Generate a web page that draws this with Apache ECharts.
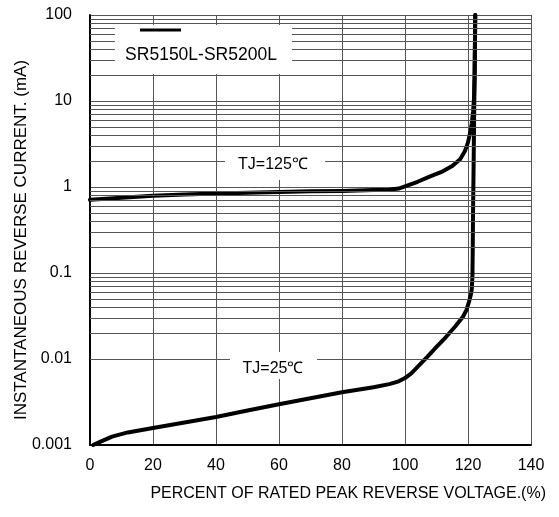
<!DOCTYPE html>
<html><head><meta charset="utf-8">
<script src="https://cdn.jsdelivr.net/npm/echarts@6/dist/echarts.min.js"></script>
<style>html,body{margin:0;padding:0;background:#fff}#c{width:559px;height:517px}</style>
</head><body><div id="c"></div>
<script>
// ---- data ----
const xTickLabels = ['0','20','40','60','80','100','120','140'];
const yTickLabels = ['0.001','0.01','0.1','1','10','100'];
const minorY = [];
[0.001,0.01,0.1,1,10].forEach(d=>{for(let k=2;k<=9;k++){minorY.push(+(d*k).toPrecision(3));}});

const tj125 = [
  [0,0.71],[10,0.75],[20,0.79],[30,0.82],[40,0.84],[50,0.86],[60,0.875],[70,0.89],
  [80,0.90],[90,0.92],[95,0.93],[98,0.96],[100,1.02],[104,1.15],[108,1.33],[112,1.52],
  [115,1.75],[117.5,2.1],[119,2.6],[120,3.3],[120.7,4.3],[121.2,5.5],[121.6,7.5],
  [121.9,10.5],[122.1,20],[122.2,50],[122.3,100]
];
const tj25 = [
  [1,0.001],[3,0.00108],[7,0.00125],[12,0.0014],[20,0.00158],[30,0.00183],[40,0.00212],
  [50,0.00252],[60,0.00298],[70,0.0035],[80,0.0041],[90,0.0047],[95,0.0051],[98,0.0055],
  [100,0.006],[102,0.0068],[104,0.0081],[107,0.0105],[110,0.0138],[113,0.018],[116,0.024],
  [118.4,0.031],[119.5,0.037],[120.3,0.046],[120.9,0.056],[121.2,0.065],[121.4,0.09],
  [121.5,0.18],[121.6,0.5],[121.8,2],[122,10],[122.2,40],[122.3,100]
];
const seriesNames = ['TJ=125℃','TJ=25℃'];
const legendText = 'SR5150L-SR5200L';
const xTitle = 'PERCENT OF RATED PEAK REVERSE VOLTAGE.(%)';
const yTitle = 'INSTANTANEOUS REVERSE CURRENT. (mA)';

const FONT = "'Liberation Sans', Arial, sans-serif";
const chart = echarts.init(document.getElementById('c'), null, {renderer:'canvas'});
const grid = {left:90, right:28, top:15, bottom:72};
const gridColor = '#555';

chart.setOption({
  backgroundColor:'#fff',
  animation:false,
  grid: grid,
  xAxis: {
    type:'value', min:0, max:140, interval:20,
    axisLine:{show:true, onZero:false, lineStyle:{color:'#000', width:2}},
    axisTick:{show:false},
    axisLabel:{color:'#000', fontSize:16, fontFamily:FONT, margin:13,
      formatter:(v)=>xTickLabels[Math.round(v/20)]},
    splitLine:{show:true, lineStyle:{color:gridColor, width:1}}
  },
  yAxis: {
    type:'log', logBase:10, min:0.001, max:100,
    axisLine:{show:true, lineStyle:{color:'#000', width:2}},
    axisTick:{show:false},
    axisLabel:{color:'#000', fontSize:16, fontFamily:FONT, margin:18,
      formatter:(v)=>yTickLabels[Math.round(Math.log10(v))+3]},
    splitLine:{show:true, lineStyle:{color:gridColor, width:1}},
    minorTick:{show:false}, minorSplitLine:{show:false}
  },
  series: [
    {
      type:'line', data:[], z:1, silent:true,
      markLine:{
        silent:true, symbol:['none','none'], label:{show:false},
        lineStyle:{color:gridColor, width:1, type:'solid'},
        data: minorY.map(v=>({yAxis:v}))
      }
    },
    {
      name:seriesNames[0], type:'line', data:tj125, showSymbol:false, z:3,
      smooth:false,
      lineStyle:{color:'#000', width:4, join:'round', cap:'round'}
    },
    {
      name:seriesNames[1], type:'line', data:tj25, showSymbol:false, z:3,
      smooth:false,
      lineStyle:{color:'#000', width:4, join:'round', cap:'round'}
    }
  ],
  graphic: [
    {type:'rect', z:100, shape:{x:115, y:25, width:177, height:49}, style:{fill:'#fff'}},
    {type:'line', z:101, shape:{x1:140, y1:30, x2:181, y2:30}, style:{stroke:'#000', lineWidth:3}},
    {type:'text', z:101, style:{x:201, y:55, text:legendText, fill:'#000', font:'17.5px '+FONT, align:'center', verticalAlign:'middle'}},
    {type:'rect', z:100, shape:{x:225, y:147, width:100, height:33}, style:{fill:'#fff'}},
    {type:'text', z:101, style:{x:273, y:165, text:seriesNames[0], fill:'#000', font:'16px '+FONT, align:'center', verticalAlign:'middle'}},
    {type:'rect', z:100, shape:{x:230, y:352, width:87, height:27}, style:{fill:'#fff'}},
    {type:'text', z:101, style:{x:273, y:369, text:seriesNames[1], fill:'#000', font:'16px '+FONT, align:'center', verticalAlign:'middle'}},
    {type:'text', z:101, style:{x:546, y:494, text:xTitle, fill:'#000', font:'16px '+FONT, align:'right', verticalAlign:'middle'}},
    {type:'text', z:101, rotation:Math.PI/2, x:21, y:240, style:{x:0, y:0, text:yTitle, fill:'#000', font:'17px '+FONT, align:'center', verticalAlign:'middle'}}
  ]
});
</script>
</body></html>
